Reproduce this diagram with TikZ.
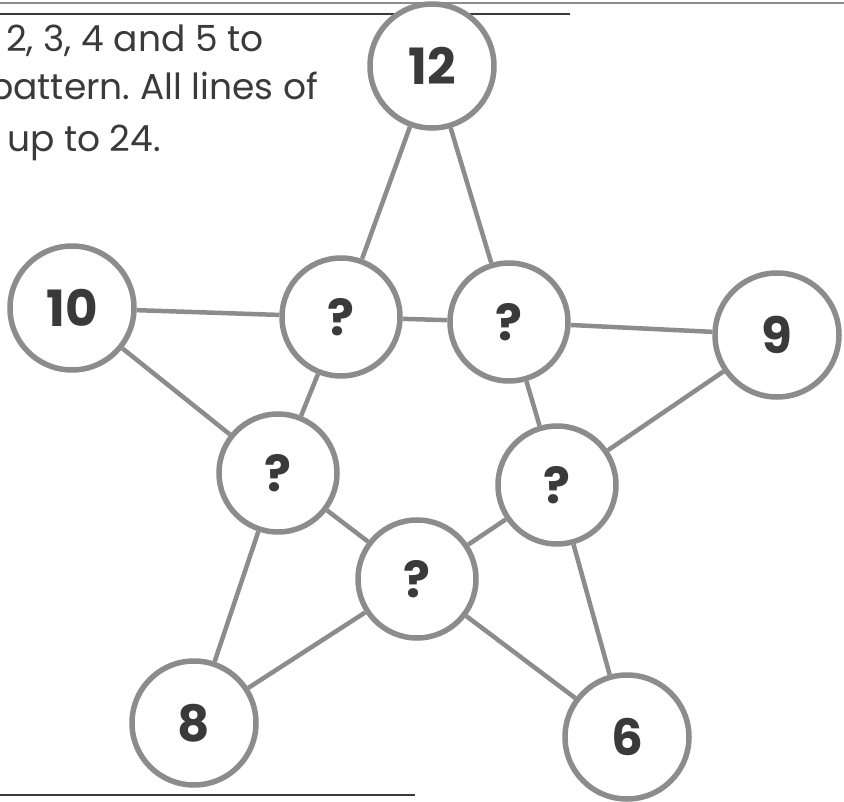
\documentclass[tikz,border=0pt]{standalone}
\usepackage{fontspec}
\setmainfont{Poppins}
\frenchspacing
\definecolor{ink}{HTML}{3A3A3A}
\definecolor{rim}{HTML}{8C8C8C}
\begin{document}
\begin{tikzpicture}[x=1pt, y=-1pt,
    ring/.style={circle, draw=rim, line width=5.5pt, fill=white, minimum size=118pt, inner sep=0pt, text=ink, font=\fontsize{50}{50}\selectfont\bfseries},
    bigring/.style={ring, minimum size=124pt},
    link/.style={draw=rim, line width=4.5pt},
    note/.style={anchor=base west, inner sep=0pt, text=ink, font=\fontsize{36}{36}\selectfont}]
    \useasboundingbox (0,0) rectangle (844,802);
    \clip (0,0) rectangle (844,802);
    % Рамка
    \draw[rim, line width=1.5pt] (0,3) -- (844,3);
    \draw[ink, line width=2pt] (0,14) -- (570,14);
    \draw[ink, line width=2pt] (0,795) -- (415,795);
    % Текст
    \node[note] (txtA) at (6,52) {2, 3, 4 and 5 to};
    \node[note] (txtB) at (-11,100) {pattern. All lines of};
    \node[note] (txtC) at (7,152) {up to 24.};
    % Внешние круги
    \node[bigring] (n12) at (432,66) {12};
    \node[bigring] (n10) at (72,308) {10};
    \node[bigring] (n9) at (777,335) {9};
    \node[bigring] (n8) at (194,723) {8};
    \node[bigring] (n6) at (627,737) {6};
    % Внутренние круги
    \node[ring] (q1) at (341,317) {?};
    \node[ring] (q2) at (509,322) {?};
    \node[ring] (q3) at (278,473) {?};
    \node[ring] (q4) at (557,485) {?};
    \node[ring] (q5) at (417,579) {?};
    % Линии
    \draw[link] (n12) -- (q1);
    \draw[link] (n12) -- (q2);
    \draw[link] (n10) -- (q1);
    \draw[link] (n10) -- (q3);
    \draw[link] (n9) -- (q2);
    \draw[link] (n9) -- (q4);
    \draw[link] (n8) -- (q3);
    \draw[link] (n8) -- (q5);
    \draw[link] (n6) -- (q4);
    \draw[link] (n6) -- (q5);
    \draw[link] (q1) -- (q2);
    \draw[link] (q2) -- (q4);
    \draw[link] (q4) -- (q5);
    \draw[link] (q5) -- (q3);
    \draw[link] (q3) -- (q1);
\end{tikzpicture}
\end{document}
